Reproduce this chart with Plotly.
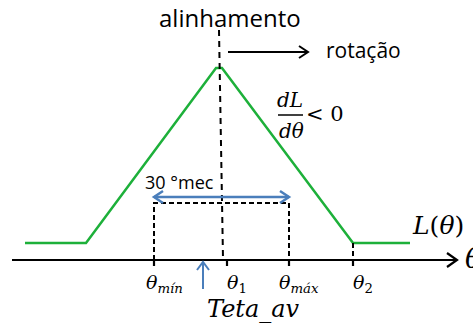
import plotly.graph_objects as go
import numpy as np

W, H = 473, 325

# Inductance profile L(theta) in sketch coordinates (x: angle, y: screen-down)
theta_L = [25, 86, 216, 222, 353, 410]
L_vals = [243, 243, 68, 68, 243, 243]

# Angle axis
axis_y = 260
axis_x = [12, 457]
theta_ticks = [154, 227, 289, 353]
tick_labels = ["<i>θ</i><sub><i>mín</i></sub>", "<i>θ</i><sub>1</sub>",
               "<i>θ</i><sub><i>máx</i></sub>", "<i>θ</i><sub>2</sub>"]

# 30 °mec window between theta_min and theta_max
window_x = [154, 289]
window_top = 203
span_y = 197

# Alignment line and rotation arrow
align_x = [219, 223]
align_y = [30, 258]
rot_x = [228, 308]
rot_y = 52

# Teta_av marker
teta_av_x = 203
teta_av_y = [289, 262]

GREEN = "#1db03a"
BLUE = "#4a7ebb"
SERIF = "DejaVu Serif"
SANS = "Open Sans"

fig = go.Figure()


def seg(xs, ys, color="black", width=2, dash="solid"):
    fig.add_trace(go.Scatter(x=xs, y=ys, mode="lines", hoverinfo="skip",
                             line=dict(color=color, width=width, dash=dash)))


def chevron(tip, direction, color="black", width=2, length=9, half=6):
    d = np.array(direction, float)
    d /= np.linalg.norm(d)
    n = np.array([-d[1], d[0]])
    t = np.array(tip, float)
    a = t - length * d + half * n
    b = t - length * d - half * n
    seg([a[0], t[0], b[0]], [a[1], t[1], b[1]], color=color, width=width)


# Green L(theta) curve
seg(theta_L, L_vals, color=GREEN, width=2.5)

# Dashed guides
seg(align_x, align_y, dash="6px,5px", width=2)
seg([window_x[0], window_x[0], window_x[1], window_x[1]],
    [axis_y, window_top, window_top, axis_y], dash="5px,3px", width=2)
seg([theta_ticks[3], theta_ticks[3]], [L_vals[-1], axis_y], dash="5px,3px", width=2)

# Angle axis with ticks
seg(axis_x, [axis_y, axis_y], width=2.2)
chevron((axis_x[1], axis_y), (1, 0), width=2.2, length=10, half=7)
for tx in theta_ticks:
    seg([tx, tx], [axis_y, axis_y + 6], width=2.2)

# Rotation arrow
seg(rot_x, [rot_y, rot_y], width=2)
chevron((rot_x[1], rot_y), (1, 0), width=2, length=9, half=6)

# Blue double arrow (30 °mec span)
seg(window_x, [span_y, span_y], color=BLUE, width=2.5)
chevron((window_x[0], span_y), (-1, 0), color=BLUE, width=2.5, length=9, half=6)
chevron((window_x[1], span_y), (1, 0), color=BLUE, width=2.5, length=9, half=6)

# Blue Teta_av arrow
seg([teta_av_x, teta_av_x], teta_av_y, color=BLUE, width=2)
chevron((teta_av_x, teta_av_y[1]), (0, -1), color=BLUE, width=2, length=8, half=6)

# Derivative fraction bar
seg([278, 303], [115, 115], width=1.5)


def text(x, y, s, size, family=SANS, anchor="center"):
    fig.add_annotation(x=x, y=y, text=s, showarrow=False, xanchor=anchor,
                       yanchor="middle", font=dict(family=family, size=size, color="black"))


text(230, 17, "alinhamento", 24)
text(363, 50, "rotação", 21)
text(179, 182, "30 °mec", 18)
text(290, 100, "<i>dL</i>", 20, SERIF)
text(291, 131, "<i>dθ</i>", 20, SERIF)
text(325, 114, "< 0", 21, SERIF)
text(438, 225, "<i>L</i>(<i>θ</i>)", 25, SERIF)
text(463, 258, "<i>θ</i>", 28, SERIF, anchor="left")
text(253, 309, "<i>Teta_av</i>", 24, SERIF)
for tx, lab in zip(theta_ticks, tick_labels):
    text(tx + 10, 283, lab, 19, SERIF)

fig.update_layout(
    width=W, height=H, margin=dict(l=0, r=0, t=0, b=0),
    paper_bgcolor="white", plot_bgcolor="white", showlegend=False,
    xaxis=dict(range=[0, W], visible=False, fixedrange=True),
    yaxis=dict(range=[H, 0], visible=False, fixedrange=True),
)
fig.write_html("out.html", config={"displayModeBar": False})
